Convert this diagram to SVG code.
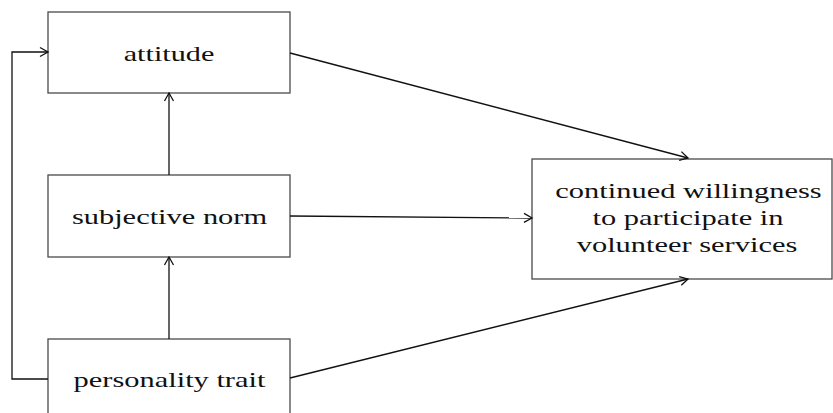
<svg xmlns="http://www.w3.org/2000/svg" width="833" height="413" viewBox="0 0 833 413">
<style>
.box{fill:#fff;stroke:#4a4a4a;stroke-width:1.3}
.c{fill:none;stroke:#111;stroke-width:1.3}
.t{font-family:"Liberation Serif","Times New Roman",serif;font-size:21px;fill:#111;text-anchor:middle}
</style>
<defs>
<marker id="ah" markerUnits="userSpaceOnUse" markerWidth="12" markerHeight="12" viewBox="0 0 12 12" refX="10" refY="6" orient="auto">
<path d="M2,1.5 L10,6 L2,10.5" fill="none" stroke="#111" stroke-width="1.3"/>
</marker>
</defs>
<g id="attitude">
<rect class="box" x="48" y="12" width="242" height="81"/>
<text class="t" transform="translate(169,61) scale(1.44,1)">attitude</text>
</g>
<g id="subjective-norm">
<rect class="box" x="48" y="175" width="242" height="82"/>
<text class="t" transform="translate(169.5,224) scale(1.45,1)">subjective norm</text>
</g>
<g id="personality-trait">
<rect class="box" x="48" y="339" width="242" height="90"/>
<text class="t" transform="translate(169.5,387) scale(1.45,1)">personality trait</text>
</g>
<g id="willingness">
<rect class="box" x="532" y="159" width="300" height="120"/>
<text class="t" transform="translate(688.5,198) scale(1.45,1)">continued willingness</text>
<text class="t" transform="translate(688,225) scale(1.45,1)">to participate in</text>
<text class="t" transform="translate(687,252) scale(1.45,1)">volunteer services</text>
</g>
<g id="connectors">
<path class="c" d="M48,379 H12 V52 H48" marker-end="url(#ah)"/>
<path class="c" d="M169,175 V93" marker-end="url(#ah)"/>
<path class="c" d="M169,339 V257" marker-end="url(#ah)"/>
<path class="c" d="M290,53 L688,158" marker-end="url(#ah)"/>
<path class="c" d="M290,216 L532,218" marker-end="url(#ah)"/>
<path class="c" d="M290,378 L688,279" marker-end="url(#ah)"/>
</g>
</svg>
